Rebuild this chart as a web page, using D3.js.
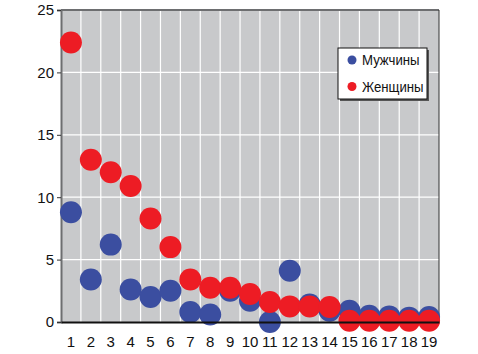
<!DOCTYPE html>
<html>
<head>
<meta charset="utf-8">
<script src="https://cdn.jsdelivr.net/npm/d3@7"></script>
<style>
  body { margin: 0; background: #fff; }
  text { font-family: "Liberation Sans Narrow", "Arial Narrow", "Liberation Sans", sans-serif; }
</style>
</head>
<body>
<div id="chart"></div>
<script>
const categories = d3.range(1, 20);
const men =   [8.8, 3.4, 6.2, 2.6, 2.0, 2.5, 0.8, 0.6, 2.5, 1.7, 0.0, 4.1, 1.4, 0.9, 0.9, 0.5, 0.45, 0.35, 0.4];
const women = [22.4, 13.0, 12.0, 10.9, 8.3, 6.0, 3.4, 2.75, 2.75, 2.25, 1.6, 1.25, 1.25, 1.2, 0.1, 0.1, 0.1, 0.1, 0.1];
const yTicks = [0, 5, 10, 15, 20, 25];
const seriesNames = ['Мужчины', 'Женщины'];
const colors = ['#3b4ea0', '#ed1c24'];

const width = 478;
const height = 354;
const margin = { top: 10, right: 39, bottom: 32, left: 61 };

const svg = d3.select('#chart')
    .append('svg')
    .attr('width', width)
    .attr('height', height);

const x = d3.scaleBand()
    .domain(categories)
    .range([margin.left, width - margin.right]);

const y = d3.scaleLinear()
    .domain([0, 25])
    .range([height - margin.bottom, margin.top]);

// plot background
svg.append('rect')
    .attr('x', margin.left)
    .attr('y', margin.top)
    .attr('width', width - margin.left - margin.right)
    .attr('height', height - margin.top - margin.bottom)
    .attr('fill', '#c8c9cb');

// vertical grid
svg.append('g')
    .selectAll('line')
    .data(categories.slice(1))
    .join('line')
        .attr('x1', d => x(d)).attr('x2', d => x(d))
        .attr('y1', margin.top).attr('y2', height - margin.bottom)
        .attr('stroke', '#fff')
        .attr('stroke-width', 1.2);

// horizontal grid
svg.append('g')
    .selectAll('line')
    .data(yTicks.slice(1, -1))
    .join('line')
        .attr('x1', margin.left).attr('x2', width - margin.right)
        .attr('y1', d => y(d)).attr('y2', d => y(d))
        .attr('stroke', '#fff')
        .attr('stroke-width', 1.2);

// frame: top gray, right thin dark
svg.append('line')
    .attr('x1', margin.left).attr('x2', width - margin.right)
    .attr('y1', margin.top).attr('y2', margin.top)
    .attr('stroke', '#6d6e70').attr('stroke-width', 2);
svg.append('line')
    .attr('x1', width - margin.right).attr('x2', width - margin.right)
    .attr('y1', margin.top).attr('y2', height - margin.bottom)
    .attr('stroke', '#333').attr('stroke-width', 1);

// Y axis
function yAxis(g) {
    g.attr('transform', `translate(${margin.left},0)`)
        .call(d3.axisLeft(y).tickValues(yTicks).tickSize(4).tickPadding(3))
        .attr('font-size', '15px')
        .call(g => g.select('.domain').attr('stroke', '#6d6e70').attr('stroke-width', 2))
        .call(g => g.selectAll('.tick line').attr('stroke', '#333'))
        .call(g => g.selectAll('.tick text').attr('fill', '#111'));
}

// X axis
function xAxis(g) {
    g.attr('transform', `translate(0,${height - margin.bottom})`)
        .call(d3.axisBottom(x).tickSize(0).tickPadding(14))
        .attr('font-size', '15px')
        .call(g => g.select('.domain').attr('stroke', '#111').attr('stroke-width', 2))
        .call(g => g.selectAll('.tick text').attr('fill', '#111'));
}

svg.append('g').call(yAxis);

// points: men first, women on top
[men, women].forEach((vals, s) => {
    svg.append('g')
        .attr('fill', colors[s])
        .selectAll('circle')
        .data(vals)
        .join('circle')
            .attr('cx', (d, i) => x(categories[i]) + x.bandwidth() / 2)
            .attr('cy', d => y(d))
            .attr('r', 11);
});

svg.append('g').call(xAxis);

// legend
const legend = svg.append('g').attr('transform', 'translate(338,48)');
legend.append('rect')
    .attr('x', 2).attr('y', 2)
    .attr('width', 89).attr('height', 51)
    .attr('fill', '#555');
legend.append('rect')
    .attr('width', 89).attr('height', 51)
    .attr('fill', '#fff')
    .attr('stroke', '#111')
    .attr('stroke-width', 1);
seriesNames.forEach((name, i) => {
    legend.append('circle')
        .attr('cx', 14).attr('cy', 12 + i * 26.5)
        .attr('r', 4.5)
        .attr('fill', colors[i]);
    legend.append('text')
        .attr('transform', `translate(24,${12 + i * 26.5}) scale(0.88,1)`)
        .attr('dy', '0.35em')
        .attr('font-size', '15px')
        .attr('fill', '#111')
        .text(name);
});
</script>
</body>
</html>
